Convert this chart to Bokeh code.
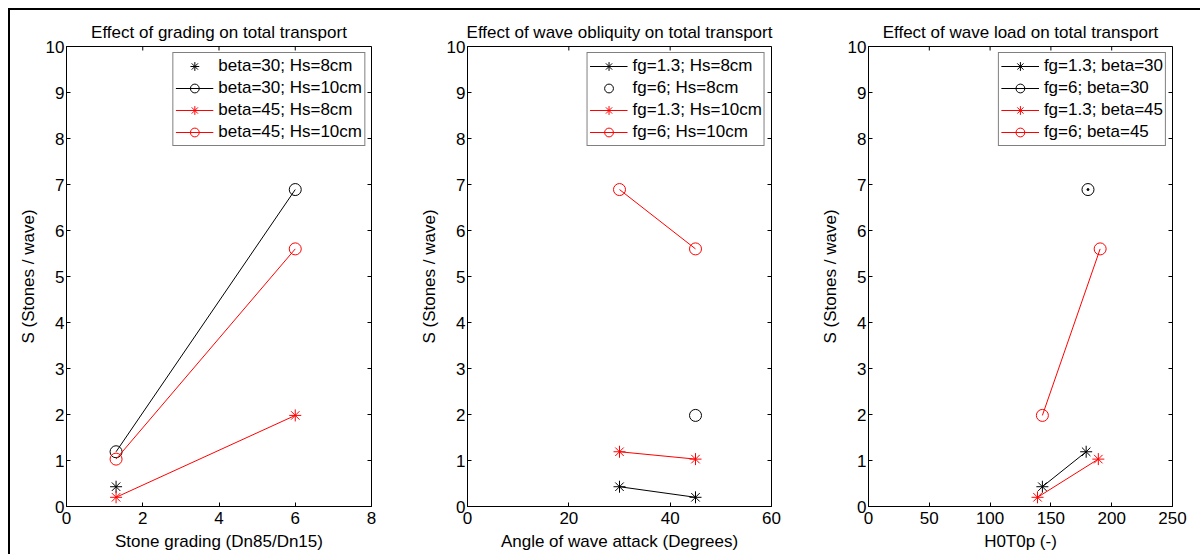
import math
from bokeh.plotting import figure
from bokeh.models import Range1d, FixedTicker, Legend, LegendItem
from bokeh.layouts import row
from bokeh.embed import file_html
from bokeh.resources import INLINE

# ---------------- data ----------------
# Panel 1: stone grading
grading_single = [1.3]
grading = [1.3, 6.0]
s_b30_hs8 = [0.43]
s_b30_hs10 = [1.19, 6.89]
s_b45_hs8 = [0.20, 1.98]
s_b45_hs10 = [1.03, 5.60]

# Panel 2: angle of wave attack
angle = [30, 45]
angle_single = [45]
s_fg13_hs8 = [0.43, 0.20]
s_fg6_hs8 = [1.98]
s_fg13_hs10 = [1.19, 1.03]
s_fg6_hs10 = [6.89, 5.60]

# Panel 3: wave load H0T0p
h_fg13_b30 = [143, 179]
s_fg13_b30 = [0.43, 1.19]
h_fg6_b30 = [180.5]
s_fg6_b30 = [6.89]
h_fg13_b45 = [139, 189]
s_fg13_b45 = [0.20, 1.03]
h_fg6_b45 = [143, 190.5]
s_fg6_b45 = [1.98, 5.60]

y_ticks = list(range(0, 11))
x1_ticks = [0, 2, 4, 6, 8]
x2_ticks = [0, 20, 40, 60]
x3_ticks = [0, 50, 100, 150, 200, 250]

FONT = "Liberation Sans"
FS = "17px"
BLACK = "#000000"
RED = "#ff0000"
Y_MAX = 10


def style_axis(ax, standoff, label_standoff):
    ax.major_tick_in = 4
    ax.major_tick_out = 0
    ax.minor_tick_line_color = None
    ax.axis_line_color = BLACK
    ax.major_tick_line_color = BLACK
    ax.major_label_text_font = FONT
    ax.major_label_text_color = BLACK
    ax.major_label_text_font_size = FS
    ax.major_label_standoff = standoff
    ax.axis_label_text_font = FONT
    ax.axis_label_text_font_size = FS
    ax.axis_label_text_font_style = "normal"
    ax.axis_label_text_color = BLACK
    ax.axis_label_standoff = label_standoff


def make_fig(width, left, right, xr, xticks, title, xlabel):
    p = figure(width=width, height=544, output_backend="svg", toolbar_location=None,
               x_range=Range1d(*xr), y_range=Range1d(0, Y_MAX),
               min_border_left=left, min_border_right=right,
               min_border_top=36, min_border_bottom=48)
    p.xgrid.visible = False
    p.ygrid.visible = False
    p.outline_line_color = BLACK
    p.outline_line_alpha = 1
    p.background_fill_color = "white"
    p.border_fill_color = "white"
    p.title.text = title
    p.title.align = "center"
    p.title.text_font = FONT
    p.title.text_font_size = FS
    p.title.text_font_style = "normal"
    p.title.text_color = BLACK
    p.title.standoff = 9
    p.xaxis.ticker = FixedTicker(ticks=xticks)
    p.yaxis.ticker = FixedTicker(ticks=y_ticks)
    p.xaxis.axis_label = xlabel
    p.yaxis.axis_label = "S (Stones / wave)"
    for ax in p.xaxis:
        style_axis(ax, 5, 5)
    for ax in p.yaxis:
        style_axis(ax, 2, 5)
    # inward ticks on the top and right edges of the box
    p.ray(x=xticks, y=[Y_MAX] * len(xticks), length=4, length_units="screen",
          angle=-math.pi / 2, line_color=BLACK, line_width=1)
    p.ray(x=[xr[1]] * len(y_ticks), y=y_ticks, length=4, length_units="screen",
          angle=math.pi, line_color=BLACK, line_width=1)
    return p


def series(p, x, y, color, marker, line=True):
    rs = []
    if line:
        rs.append(p.line(x, y, line_color=color, line_width=1))
    if marker == "star":
        rs.append(p.scatter(x, y, marker="asterisk", size=12, line_color=color, line_width=1))
    else:
        rs.append(p.scatter(x, y, marker="circle", size=12, line_color=color,
                            fill_color=None, line_width=1))
    return rs


def add_legend(p, items):
    lg = Legend(items=[LegendItem(label=l, renderers=r) for l, r in items],
                location="top_right", margin=6, padding=2, spacing=0,
                glyph_width=38, glyph_height=22, label_height=22, label_standoff=5,
                label_text_font=FONT, label_text_font_size=FS, label_text_color=BLACK,
                border_line_color=BLACK, border_line_width=1, background_fill_alpha=1)
    p.add_layout(lg, "center")


# Panel 1
p1 = make_fig(400, 56, 39, (0, 8), x1_ticks, "Effect of grading on total transport",
              "Stone grading (Dn85/Dn15)")
r1 = series(p1, grading_single, s_b30_hs8, BLACK, "star", line=False)
r2 = series(p1, grading, s_b30_hs10, BLACK, "circle")
r3 = series(p1, grading, s_b45_hs8, RED, "star")
r4 = series(p1, grading, s_b45_hs10, RED, "circle")
add_legend(p1, [("beta=30; Hs=8cm", r1), ("beta=30; Hs=10cm", r2),
                ("beta=45; Hs=8cm", r3), ("beta=45; Hs=10cm", r4)])

# Panel 2
p2 = make_fig(400, 57, 39, (0, 60), x2_ticks, "Effect of wave obliquity on total transport",
              "Angle of wave attack (Degrees)")
q1 = series(p2, angle, s_fg13_hs8, BLACK, "star")
q2 = series(p2, angle_single, s_fg6_hs8, BLACK, "circle", line=False)
q3 = series(p2, angle, s_fg13_hs10, RED, "star")
q4 = series(p2, angle, s_fg6_hs10, RED, "circle")
add_legend(p2, [("fg=1.3; Hs=8cm", q1), ("fg=6; Hs=8cm", q2),
                ("fg=1.3; Hs=10cm", q3), ("fg=6; Hs=10cm", q4)])

# Panel 3
p3 = make_fig(390, 58, 28, (0, 250), x3_ticks, "Effect of wave load on total transport",
              "H0T0p (-)")
w1 = series(p3, h_fg13_b30, s_fg13_b30, BLACK, "star")
w2 = series(p3, h_fg6_b30, s_fg6_b30, BLACK, "circle")
p3.scatter(h_fg6_b30, s_fg6_b30, marker="circle", size=2, line_color=BLACK, fill_color=BLACK)
w3 = series(p3, h_fg13_b45, s_fg13_b45, RED, "star")
w4 = series(p3, h_fg6_b45, s_fg6_b45, RED, "circle")
add_legend(p3, [("fg=1.3; beta=30", w1), ("fg=6; beta=30", w2),
                ("fg=1.3; beta=45", w3), ("fg=6; beta=45", w4)])

inner = row(p1, p2, p3, spacing=0,
            styles={"border-top": "2px solid black", "border-left": "2px solid black"})
layout = row(inner, spacing=0,
             styles={"padding-top": "8px", "padding-left": "8px", "background-color": "white"})

open("out.html", "w").write(file_html(layout, INLINE))
